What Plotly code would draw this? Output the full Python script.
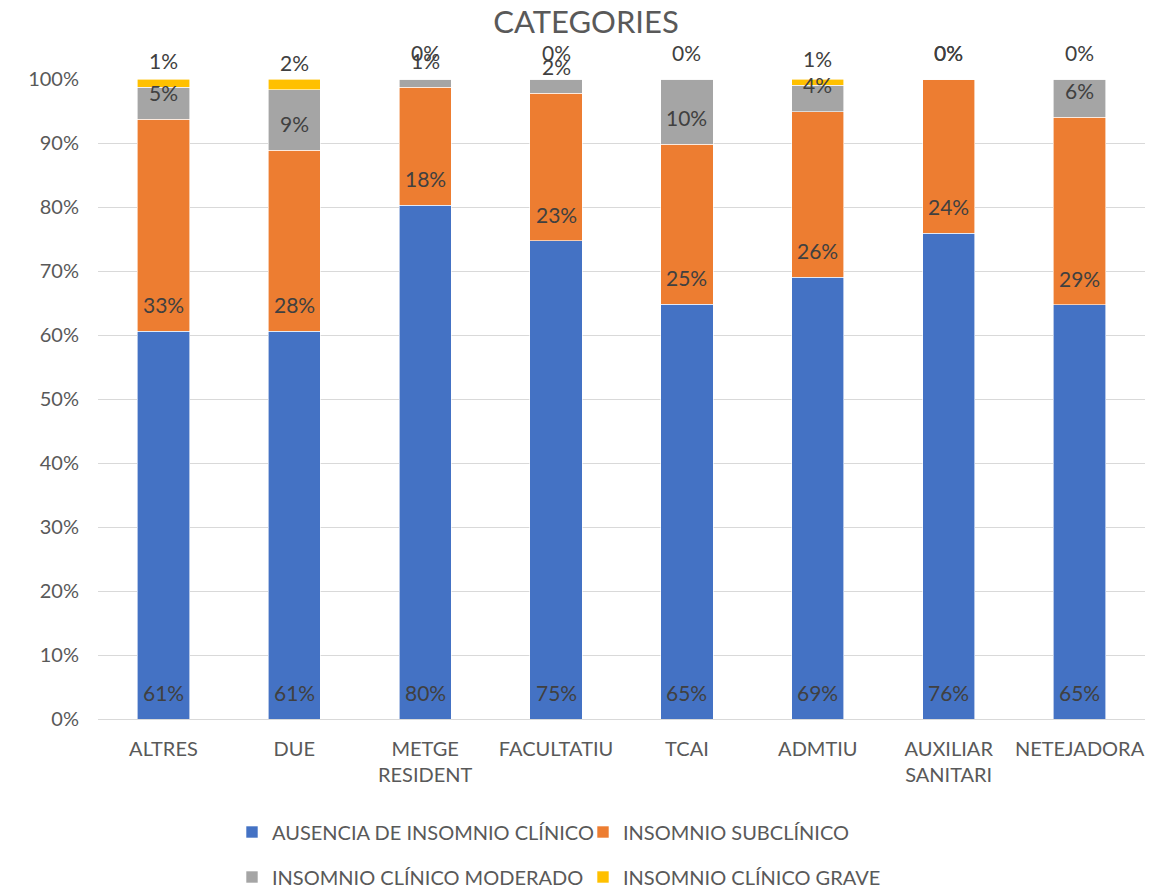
import plotly.graph_objects as go

categories = ["ALTRES", "DUE", "METGE<br>RESIDENT", "FACULTATIU", "TCAI", "ADMTIU",
              "AUXILIAR<br>SANITARI", "NETEJADORA"]
ausencia = [60.6, 60.6, 80.3, 74.7, 64.8, 69.0, 75.9, 64.7]
subclinico = [33.1, 28.3, 18.4, 23.1, 25.0, 25.9, 24.1, 29.3]
moderado = [5.0, 9.4, 1.3, 2.2, 10.2, 4.1, 0.0, 6.0]
grave = [1.3, 1.7, 0.0, 0.0, 0.0, 1.0, 0.0, 0.0]

series_names = ["AUSENCIA DE INSOMNIO CLÍNICO", "INSOMNIO SUBCLÍNICO",
                "INSOMNIO CLÍNICO MODERADO", "INSOMNIO CLÍNICO GRAVE"]
series_values = [ausencia, subclinico, moderado, grave]
colors = ["#4472C4", "#ED7D31", "#A5A5A5", "#FFC000"]
legends = ["legend", "legend", "legend2", "legend2"]

FONT = "Lato"
YMAX = 100.0
fig = go.Figure()
for name, vals, col, lg in zip(series_names, series_values, colors, legends):
    fig.add_trace(go.Bar(
        x=categories, y=vals, name=name, legend=lg,
        marker=dict(color=col, line=dict(color="white", width=0.6)),
        hoverinfo="skip",
    ))

# data labels at "inside base" of each segment (paper coords so labels above 100% still show)
annotations = []
base = [0.0] * len(categories)
for vals in series_values:
    for i, v in enumerate(vals):
        annotations.append(dict(
            x=categories[i], y=(base[i] + 4.2) / YMAX, xref="x", yref="paper",
            text=f"{round(v)}%", showarrow=False, yanchor="middle",
            font=dict(family=FONT, size=21, color="#404040"),
        ))
        base[i] += v

fig.update_layout(
    width=1172, height=888,
    margin=dict(l=97.5, r=26.5, t=79, b=169, autoexpand=False),
    paper_bgcolor="white", plot_bgcolor="white",
    barmode="stack", bargap=0.6,
    title=dict(text="CATEGORIES", x=0.5, xanchor="center", y=1 - 22 / 888,
               yanchor="middle", font=dict(family=FONT, size=31, color="#595959")),
    font=dict(family=FONT, size=20, color="#595959"),
    xaxis=dict(showgrid=False, showline=True, linecolor="#D9D9D9", linewidth=1,
               ticks="", ticklabelstandoff=12, automargin=False,
               tickfont=dict(family=FONT, size=20, color="#595959")),
    yaxis=dict(range=[0, YMAX], dtick=10, ticksuffix="%", showgrid=True,
               gridcolor="#D9D9D9", gridwidth=1, zeroline=False, ticks="",
               ticklabelstandoff=18, automargin=False,
               tickfont=dict(family=FONT, size=20, color="#595959")),
    legend=dict(orientation="h", x=232 / 1172, xref="container", xanchor="left",
                y=1 - 832 / 888, yref="container", yanchor="middle", itemwidth=30,
                entrywidth=306, entrywidthmode="pixels", traceorder="normal",
                font=dict(family=FONT, size=20, color="#595959")),
    legend2=dict(orientation="h", x=232 / 1172, xref="container", xanchor="left",
                 y=1 - 877 / 888, yref="container", yanchor="middle", itemwidth=30,
                 entrywidth=306, entrywidthmode="pixels", traceorder="normal",
                 font=dict(family=FONT, size=20, color="#595959")),
    annotations=annotations,
    showlegend=True,
)

fig.write_html("out.html")
